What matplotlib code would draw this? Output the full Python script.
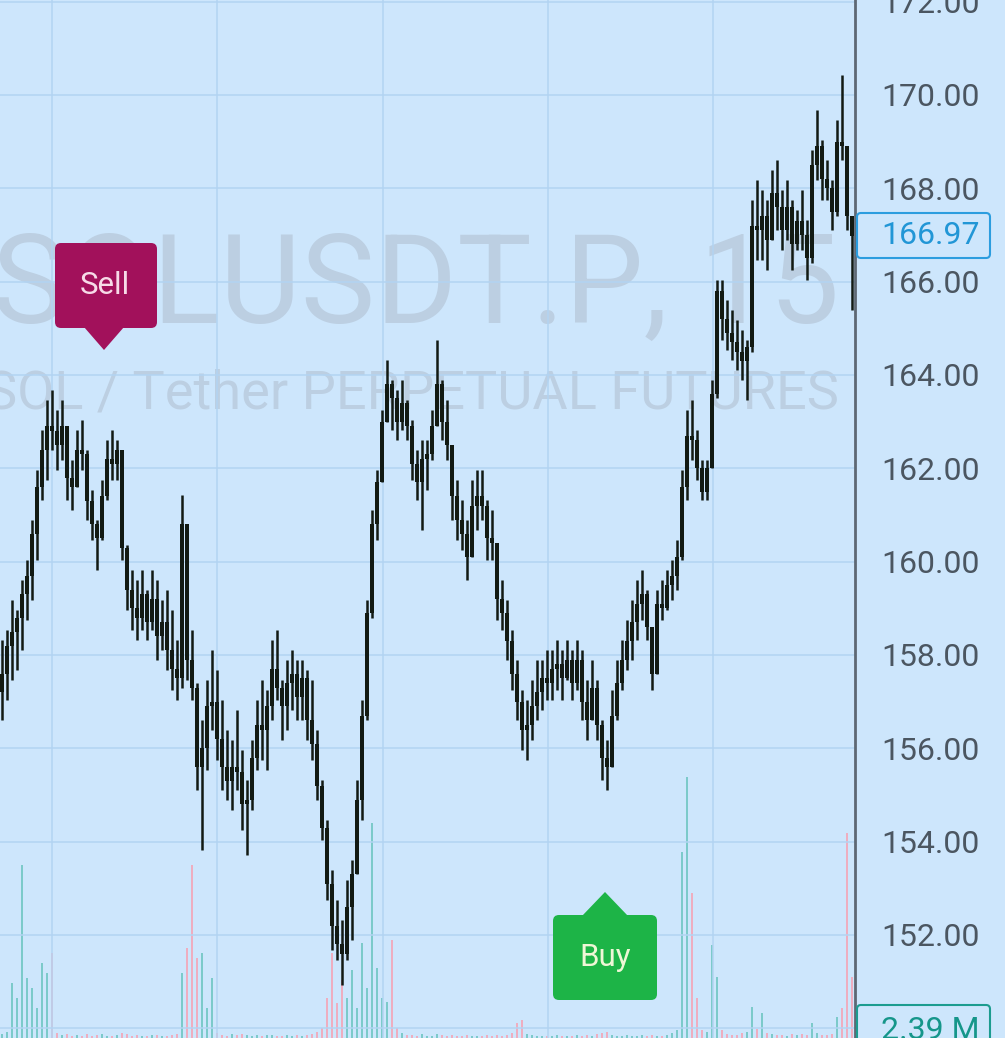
import matplotlib
matplotlib.use("Agg")
import matplotlib.pyplot as plt
from matplotlib.patches import FancyBboxPatch, Polygon

plt.rcParams['font.family'] = ['Roboto', 'DejaVu Sans']

# ---------------- data ----------------
first_open = 157.2
highs = [
    158.32, 158.54, 159.18, 158.97, 159.61, 160.04, 160.90, 161.97, 162.83, 163.47,
    163.68, 163.25, 163.47, 162.61, 162.18, 162.83, 163.04, 162.40, 161.54, 160.90,
    161.75, 162.61, 162.83, 162.61, 162.40, 160.36, 159.82, 159.61, 159.82, 159.40,
    159.82, 159.61, 159.18, 159.40, 158.97, 158.32, 161.43, 160.04, 158.54, 157.40,
    156.61, 157.47, 158.11, 157.68, 157.04, 156.40, 156.18, 156.82, 155.97, 155.33,
    156.18, 157.04, 157.47, 157.25, 158.32, 158.54, 157.47, 157.90, 158.11, 157.90,
    157.90, 157.68, 157.47, 156.40, 155.33, 154.47, 153.40, 152.75, 152.32, 153.18,
    153.61, 155.33, 157.04, 159.18, 161.11, 161.97, 163.25, 164.32, 163.90, 163.68,
    163.90, 163.47, 163.04, 162.40, 162.61, 162.61, 163.25, 164.75, 163.90, 163.47,
    162.40, 161.75, 161.32, 160.90, 161.75, 161.97, 161.97, 161.32, 161.11, 160.04,
    159.61, 159.18, 158.54, 157.90, 157.25, 157.04, 157.47, 157.90, 157.90, 158.11,
    158.11, 158.32, 158.11, 158.32, 158.11, 158.32, 158.11, 157.47, 157.90, 157.47,
    156.61, 156.18, 157.25, 157.90, 158.32, 158.75, 159.18, 159.61, 159.82, 159.40,
    158.54, 159.40, 159.61, 159.82, 160.04, 160.47, 161.97, 163.25, 163.47, 162.83,
    162.18, 162.18, 163.90, 166.04, 166.04, 165.61, 165.40, 165.18, 164.97, 164.75,
    167.75, 168.18, 167.97, 167.75, 168.40, 168.61, 167.97, 168.18, 167.75, 167.54,
    167.97, 167.33, 168.83, 169.68, 169.04, 168.61, 168.18, 169.47, 170.43, 168.61,
    167.11]
lows = [
    156.61, 157.04, 157.47, 157.68, 158.11, 158.75, 159.18, 160.04, 161.32, 161.75,
    162.40, 161.97, 162.18, 161.32, 161.11, 161.75, 161.97, 160.90, 160.47, 159.82,
    160.47, 161.32, 161.75, 161.75, 160.04, 158.97, 158.54, 158.32, 158.54, 158.32,
    158.54, 157.90, 158.11, 157.68, 157.25, 157.04, 157.30, 157.47, 157.04, 155.11,
    153.82, 155.54, 156.40, 155.75, 155.11, 154.90, 154.68, 155.11, 154.25, 153.72,
    154.68, 155.54, 155.75, 155.54, 156.61, 157.04, 156.18, 156.40, 156.82, 156.61,
    156.61, 156.18, 155.75, 154.90, 154.04, 152.75, 151.68, 151.47, 150.93, 151.47,
    151.90, 153.40, 154.47, 156.61, 158.80, 160.47, 161.75, 163.04, 162.83, 162.61,
    162.83, 162.61, 161.75, 161.32, 160.68, 161.54, 162.18, 163.04, 162.61, 162.18,
    160.90, 160.47, 160.25, 159.61, 160.47, 160.68, 160.90, 160.04, 160.04, 158.75,
    158.54, 157.90, 157.25, 156.61, 155.97, 155.75, 156.18, 156.61, 156.82, 157.04,
    157.04, 157.25, 157.04, 157.47, 157.04, 157.25, 156.61, 156.18, 156.82, 156.18,
    155.33, 155.11, 155.75, 156.61, 157.25, 157.68, 157.90, 158.32, 158.75, 158.32,
    157.25, 158.32, 158.75, 158.97, 159.18, 159.40, 160.04, 161.32, 162.18, 161.75,
    161.32, 161.32, 162.18, 163.50, 164.75, 164.54, 164.32, 164.11, 163.90, 163.47,
    164.50, 166.47, 166.47, 166.25, 166.90, 167.11, 166.68, 166.90, 166.25, 166.68,
    166.68, 166.04, 166.40, 168.18, 167.75, 167.75, 167.11, 167.40, 168.61, 167.11,
    165.40]
closes = [
    157.6, 158.2, 158.5, 158.8, 159.3, 159.7, 160.6, 161.6, 162.4, 162.9,
    162.8, 162.5, 162.9, 161.8, 161.6, 162.4, 162.3, 161.3, 160.8, 160.5,
    161.4, 162.2, 162.1, 162.4, 160.3, 159.4, 159.0, 158.8, 159.3, 158.7,
    159.2, 158.4, 158.7, 158.1, 157.7, 157.5, 160.8, 157.9, 157.3, 155.6,
    156.0, 156.9, 157.0, 156.2, 155.6, 155.3, 155.6, 155.5, 154.8, 154.9,
    155.8, 156.5, 156.4, 156.9, 157.7, 157.3, 156.9, 157.4, 157.6, 157.1,
    157.5, 156.6, 156.1, 155.2, 154.3, 153.1, 152.2, 151.8, 151.6, 152.6,
    153.3, 154.9, 156.7, 158.9, 160.8, 161.7, 163.0, 163.8, 163.5, 163.0,
    163.4, 162.9, 162.1, 161.7, 162.2, 162.3, 162.9, 163.8, 163.0, 162.5,
    161.4, 160.9, 160.6, 160.1, 161.2, 161.4, 161.2, 160.5, 160.4, 159.2,
    158.9, 158.3, 157.6, 157.0, 156.4, 156.5, 156.9, 157.2, 157.5, 157.4,
    157.7, 157.8, 157.5, 157.9, 157.4, 157.9, 157.0, 156.6, 157.3, 156.5,
    155.8, 155.6, 156.7, 157.4, 157.9, 158.3, 158.7, 159.1, 159.3, 158.6,
    157.6, 159.1, 159.0, 159.5, 159.7, 160.1, 161.6, 162.7, 162.6, 162.0,
    161.5, 162.0, 163.6, 165.8, 165.2, 164.9, 164.7, 164.5, 164.3, 164.6,
    167.2, 167.1, 167.4, 166.9, 167.9, 167.6, 167.1, 167.6, 166.8, 167.3,
    167.0, 166.5, 168.5, 168.9, 168.2, 168.0, 167.5, 169.0, 168.9, 167.4,
    166.97]
volumes = [
    0.4, 0.6, 5.5, 4.0, 17.3, 6.0, 5.0, 3.0, 7.5, 6.5,
    8.5, 0.5, 0.3, 0.4, 0.2, 0.3, 0.2, 0.4, 0.2, 0.3,
    0.4, 0.2, 0.2, 0.3, 0.5, 0.4, 0.2, 0.3, 0.2, 0.2,
    0.3, 0.3, 0.2, 0.2, 0.3, 0.4, 6.5, 9.0, 17.3, 8.0,
    8.5, 3.0, 6.0, 0.5, 0.3, 0.2, 0.4, 0.3, 0.4, 0.3,
    0.2, 0.3, 0.2, 0.3, 0.3, 0.2, 0.2, 0.3, 0.2, 0.3,
    0.2, 0.3, 0.4, 0.6, 1.0, 4.0, 8.5, 3.5, 5.8, 4.0,
    6.8, 3.0, 9.5, 5.0, 21.5, 7.0, 4.0, 3.6, 9.8, 1.0,
    0.5, 0.3, 0.3, 0.2, 0.4, 0.2, 0.2, 0.4, 0.3, 0.2,
    0.3, 0.2, 0.2, 0.3, 0.2, 0.2, 0.2, 0.3, 0.2, 0.3,
    0.2, 0.3, 0.5, 1.5, 1.8, 0.4, 0.3, 0.2, 0.2, 0.2,
    0.2, 0.3, 0.2, 0.2, 0.2, 0.3, 0.2, 0.3, 0.2, 0.4,
    0.5, 0.6, 0.3, 0.2, 0.2, 0.3, 0.2, 0.2, 0.3, 0.2,
    0.3, 0.2, 0.2, 0.3, 0.5, 0.8, 18.6, 26.1, 14.5, 4.0,
    0.8, 0.6, 9.3, 6.1, 0.8, 0.4, 0.3, 0.3, 0.5, 0.6,
    3.1, 0.9, 2.5, 0.5, 0.4, 0.3, 0.3, 0.2, 0.4, 0.3,
    0.4, 0.3, 1.5, 0.5, 0.3, 0.3, 0.4, 2.1, 3.0, 20.5,
    6.1]
price_ticks = [150, 152, 154, 156, 158, 160, 162, 164, 166, 168, 170, 172]
time_grid = [10, 43.05, 76.1, 109.15, 142.2]   # candle positions of the time grid
last_price_label = "166.97"
last_volume_label = "2.39 M"
symbol_title = "SOLUSDT.P, 15"
symbol_desc = "SOL / Tether PERPETUAL FUTURES"

# ---------------- style ----------------
W, H = 1005, 1038
BG = '#cde6fc'
GRID = '#b2d4f2'
CANDLE = '#121a13'
AXIS = '#5d6874'
TXT = '#4b5661'
WATER = '#bccfe2'

fig = plt.figure(figsize=(W / 100, H / 100), dpi=100)
fig.patch.set_facecolor(BG)
rect = [0, 0, 855 / W, 1]
xlim = (-0.4, 170.6)
ylim = (149.79, 172.036)

# background / volume axes
axv = fig.add_axes(rect, zorder=0)
axv.set_facecolor(BG)
axv.set_xlim(*xlim)
axv.set_ylim(0, 103.8)
axv.axis('off')

n = len(closes)
opens = [first_open] + closes[:-1]
xs = list(range(n))
vcols = ['#7ccaca' if c >= o else '#eeaec0' for o, c in zip(opens, closes)]
axv.bar(xs, volumes, width=0.3, color=vcols, zorder=2)

def px(x, y):
    return x / W, 1 - y / H

# watermark (clipped to the pane)
t1 = axv.text(*px(416, 323), symbol_title, transform=fig.transFigure, ha='center',
              va='baseline', fontsize=90, color=WATER, zorder=1)
t2 = axv.text(*px(412, 408), symbol_desc, transform=fig.transFigure, ha='center',
              va='baseline', fontsize=39, color=WATER, zorder=1)
for t in (t1, t2):
    t.set_clip_on(True)
    t.set_clip_path(axv.patch)

# price axes
ax = fig.add_axes(rect, zorder=1)
ax.set_facecolor('none')
ax.set_xlim(*xlim)
ax.set_ylim(*ylim)
for s in ['left', 'top', 'bottom']:
    ax.spines[s].set_visible(False)
ax.spines['right'].set_color(AXIS)
ax.spines['right'].set_linewidth(2)
ax.yaxis.tick_right()
ax.set_yticks(price_ticks)
ax.set_yticklabels(['' if v == 150 else f"{v:.2f}" for v in price_ticks])
ax.tick_params(axis='y', length=0, pad=19, labelsize=23, labelcolor=TXT)
ax.set_xticks(time_grid)
ax.tick_params(axis='x', length=0, labelbottom=False)
ax.grid(True, color=GRID, linewidth=1.1)
ax.set_axisbelow(True)

for i in range(n):
    o, c = opens[i], closes[i]
    lo = min(lows[i], o, c)
    hi = max(highs[i], o, c)
    ax.vlines(i, lo, hi, color=CANDLE, linewidth=1.8, zorder=3)
    ax.bar(i, max(abs(c - o), 0.06), bottom=min(o, c), width=0.92,
           color=CANDLE, linewidth=0, zorder=3)

# overlay (markers & labels) in pixel coordinates
ov = fig.add_axes([0, 0, 1, 1], zorder=2)
ov.set_xlim(0, W)
ov.set_ylim(H, 0)
ov.axis('off')
ov.patch.set_alpha(0)

SELL = '#a2115b'
BUY = '#1db447'
ov.add_patch(FancyBboxPatch((55, 243), 102, 85, boxstyle='round,pad=0,rounding_size=6',
                            facecolor=SELL, edgecolor='none'))
ov.add_patch(Polygon([(84, 327), (124, 327), (104, 350)], closed=True,
                     facecolor=SELL, edgecolor='none'))
ov.text(105, 286, 'Sell', ha='center', va='center', fontsize=22.5, color='#f7dbe8')

ov.add_patch(FancyBboxPatch((553, 915), 104, 85, boxstyle='round,pad=0,rounding_size=6',
                            facecolor=BUY, edgecolor='none'))
ov.add_patch(Polygon([(582, 916), (628, 916), (605, 892)], closed=True,
                     facecolor=BUY, edgecolor='none'))
ov.text(605, 958, 'Buy', ha='center', va='center', fontsize=22.5, color='#eef7d6')

# last price label
ov.add_patch(FancyBboxPatch((857, 213), 133, 45, boxstyle='round,pad=0,rounding_size=4',
                            facecolor=BG, edgecolor='#2b9ddf', linewidth=1.5))
ov.text(881, 236, last_price_label, ha='left', va='center', fontsize=23, color='#2196d6')

# last volume label
ov.add_patch(FancyBboxPatch((857, 1005), 133, 45, boxstyle='round,pad=0,rounding_size=4',
                            facecolor=BG, edgecolor='#1c9c8f', linewidth=1.5))
ov.text(881, 1039, last_volume_label, ha='left', va='baseline', fontsize=23, color='#15968a')

fig.savefig('out.png', dpi=100, facecolor=BG)
